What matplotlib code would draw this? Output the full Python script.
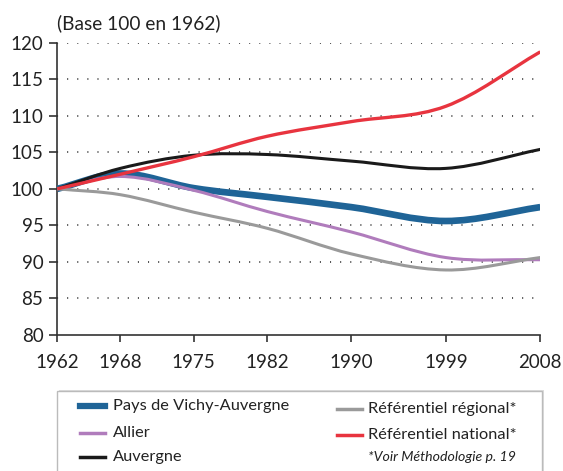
import matplotlib
matplotlib.use("Agg")
import matplotlib.pyplot as plt
from matplotlib.path import Path
from matplotlib.patches import PathPatch, Rectangle
from matplotlib.lines import Line2D

plt.rcParams['font.family'] = ['Lato', 'DejaVu Sans']

years = [1962, 1968, 1975, 1982, 1990, 1999, 2008]
vichy = [100, 102.1, 100.1, 98.9, 97.5, 95.6, 97.5]
allier = [100, 101.7, 99.8, 96.9, 94.1, 90.6, 90.3]
auvergne = [100, 102.8, 104.6, 104.7, 103.8, 102.8, 105.4]
regional = [100, 99.2, 96.8, 94.6, 91.1, 88.9, 90.6]
national = [100, 102.0, 104.4, 107.2, 109.2, 111.3, 118.75]

series = [
    ("Pays de Vichy-Auvergne", vichy, "#1f6497", 4.8),
    ("Allier", allier, "#b07cbc", 2.2),
    ("Auvergne", auvergne, "#1a1a1a", 2.2),
    ("Référentiel régional*", regional, "#9a9a9a", 2.2),
    ("Référentiel national*", national, "#e8343f", 2.4),
]

W, H = 563, 471
fig = plt.figure(figsize=(W / 100, H / 100), dpi=100)
ax = fig.add_axes([57.3 / W, 1 - 335 / H, (540.3 - 57.3) / W, (335 - 42.7) / H])


def smooth_path(xs, ys):
    n = len(xs)
    m = []
    for i in range(n):
        if i == 0:
            m.append((ys[1] - ys[0]) / (xs[1] - xs[0]))
        elif i == n - 1:
            m.append((ys[-1] - ys[-2]) / (xs[-1] - xs[-2]))
        else:
            m.append((ys[i + 1] - ys[i - 1]) / (xs[i + 1] - xs[i - 1]))
    verts = [(xs[0], ys[0])]
    codes = [Path.MOVETO]
    for i in range(n - 1):
        dx = xs[i + 1] - xs[i]
        verts += [(xs[i] + dx / 3, ys[i] + m[i] * dx / 3),
                  (xs[i + 1] - dx / 3, ys[i + 1] - m[i + 1] * dx / 3),
                  (xs[i + 1], ys[i + 1])]
        codes += [Path.CURVE4] * 3
    return Path(verts, codes)


order = [3, 1, 0, 4, 2]
for k in order:
    name, vals, col, lw = series[k]
    ax.add_patch(PathPatch(smooth_path(years, vals), facecolor='none',
                           edgecolor=col, lw=lw, capstyle='butt', zorder=3 + k))

ax.set_xlim(1962, 2008)
ax.set_ylim(80, 120)
ax.set_xticks(years)
ax.set_xticklabels([str(y) for y in years])
ax.set_yticks(range(80, 121, 5))
for v in range(85, 121, 5):
    ax.plot([1962, 2007.8], [v, v], color='#444444', lw=1.3,
            linestyle=(0, (0.6, 5.0)), zorder=1, dash_capstyle='butt')

for s in ['top', 'right']:
    ax.spines[s].set_visible(False)
for s in ['left', 'bottom']:
    ax.spines[s].set_color('#333333')
    ax.spines[s].set_linewidth(1.2)
ax.tick_params(axis='y', direction='out', length=6, width=1.2, color='#333333',
               labelsize=13.5, pad=4, labelcolor='#222222')
ax.tick_params(axis='x', direction='out', length=5, width=1.2, color='#333333',
               labelsize=13.5, pad=9, labelcolor='#222222')

fig.text(57 / W, 1 - 23 / H, "(Base 100 en 1962)", fontsize=13.8, color='#222222',
         ha='left', va='center')

# legend box
shadow = Rectangle((59 / W, -0.05), (542 - 57) / W, (471 - 391 + 25) / H - 0.002,
                   transform=fig.transFigure, facecolor='#dddddd', edgecolor='none', zorder=0)
box = Rectangle((57 / W, -0.05), (542 - 57) / W, (471 - 391) / H + 0.05,
                transform=fig.transFigure, facecolor='white', edgecolor='#bbbbbb', lw=1.0, zorder=1)
fig.patches.extend([shadow, box])

pos = {
    0: (80, 105, 113, 405.7),
    1: (80, 105, 113, 433.3),
    2: (80, 105, 113, 456.7),
    3: (337, 362, 368, 409.3),
    4: (337, 362, 368, 435),
}
for k, (x0, x1, xt, y) in pos.items():
    name, vals, col, lw = series[k]
    fig.add_artist(Line2D([x0 / W, x1 / W], [1 - y / H, 1 - y / H], color=col,
                          lw=4.5 if k == 0 else 2.5, transform=fig.transFigure))
    fig.text(xt / W, 1 - y / H, name, fontsize=11.8, color='#222222', va='center', ha='left')

fig.text(368 / W, 1 - 456.7 / H, "*Voir Méthodologie p. 19", fontsize=10.2, style='italic',
         color='#222222', va='center', ha='left')

fig.savefig("out.png", dpi=100)
